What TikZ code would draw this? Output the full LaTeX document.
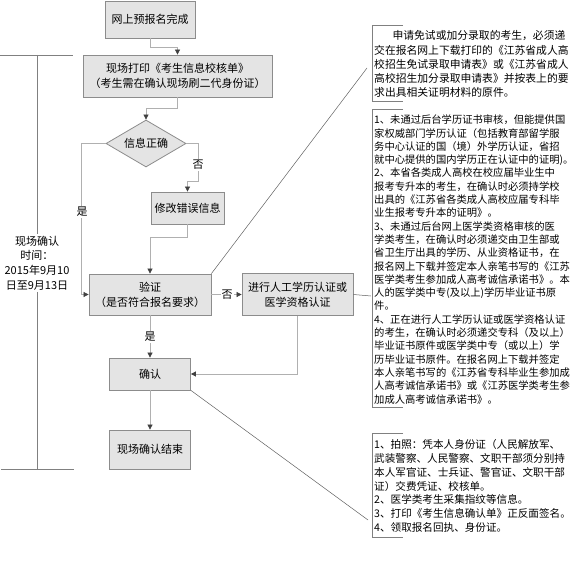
\documentclass[tikz,border=0pt]{standalone}
\usepackage{fontspec}
\setmainfont{Noto Sans CJK SC}
\usetikzlibrary{arrows.meta,shapes.geometric,calc}
\definecolor{boxfill}{HTML}{E4E4E4}
\definecolor{boxline}{HTML}{8C8C8C}
\definecolor{connline}{HTML}{B0B0B0}
\definecolor{tipcol}{HTML}{404040}
\definecolor{diagline}{HTML}{606060}
\definecolor{brkline}{HTML}{808080}
\begin{document}
\begin{tikzpicture}[x=1pt,y=-1pt,
  box/.style={draw=boxline,fill=boxfill,line width=0.8pt,inner sep=0pt,align=center,font=\fontsize{11}{15}\selectfont},
  conn/.style={draw=connline,line width=0.7pt},
  arr/.style={conn,-{Triangle[length=5pt,width=5pt,color=tipcol]}},
  lbl/.style={fill=white,inner sep=1pt,font=\fontsize{11}{13}\selectfont},
  note/.style={anchor=north west,align=left,inner sep=0pt},
  brk/.style={draw=brkline,line width=0.6pt},
  diag/.style={draw=diagline,line width=0.5pt}]
\useasboundingbox (0,0) rectangle (580,580);

% flow boxes
\node[box,minimum width=90pt,minimum height=37pt] (b1) at (150,19.5) {网上预报名完成};
\node[box,minimum width=189pt,minimum height=42pt] (b2) at (177.5,76) {现场打印《考生信息校核单》\\（考生需在确认现场刷二代身份证）};
\node[box,diamond,shape aspect=1.7,minimum width=80pt,minimum height=47pt] (d) at (146,143.5) {信息正确};
\node[box,minimum width=73pt,minimum height=32pt] (b3) at (187.5,208) {修改错误信息};
\node[box,minimum width=122pt,minimum height=41pt] (v) at (150,294.5) {验证\\（是否符合报名要求）};
\node[box,minimum width=111pt,minimum height=42pt] (b5) at (297.5,294.5) {进行人工学历认证或\\医学资格认证};
\node[box,minimum width=81pt,minimum height=32pt] (c) at (150,374) {确认};
\node[box,minimum width=81pt,minimum height=39pt] (e) at (150,449.5) {现场确认结束};

% connectors
\draw[arr] (b1.south) -- ++(0,9) -| (b2.north);
\draw[arr] (b2.south) -- ++(0,11) -| (d.north);
\draw[arr] (d.east) -| ++(12,38) -| (b3.north);
\draw[arr] (d.west) -- ++(-24,0) |- (v.west);
\draw[arr] (b3.south) -- ++(0,13) -| (v.north);
\draw[arr] (v.east) -- (v.east -| b5.west);
\draw[arr] (v.south) -- (c.north);
\draw[arr] (b5.south) |- (c.east);
\draw[arr] (c.south) -- (e.north);

% labels
\node[lbl] (l1) at (198,165) {否};
\node[lbl] (l2) at (82,212) {是};
\node[lbl] (l3) at (227,294.5) {否};
\node[lbl] (l4) at (150,337) {是};

% left bracket
\coordinate (lt1) at (0,55);
\coordinate (lt2) at (73,55);
\coordinate (lb1) at (1,469);
\coordinate (lb2) at (74,469);
\coordinate (lvt) at (37,55);
\coordinate (lvb) at (37,469);
\node[align=center,inner sep=1.5pt,font=\fontsize{11}{14.7}\selectfont] (lt) at (37,263) {现场确认\\时间：\\2015年9月10\\日至9月13日};
\draw[brk] (lt1) -- (lt2);
\draw[brk] (lb1) -- (lb2);
\draw[brk] (lvt) -- (lt.north);
\draw[brk] (lt.south) -- (lvb);

% right notes
\coordinate (r1a) at (403,25);
\coordinate (r1b) at (372,25);
\coordinate (r1c) at (372,101);
\coordinate (r1d) at (403,101);
\draw[brk] (r1a) -- (r1b) -- (r1c) -- (r1d);
\node[note,font=\fontsize{10.8}{14.25}\selectfont] (n1) at (374,30.6) {\hspace*{1.7em}申请免试或加分录取的考生，必须递\\
交在报名网上下载打印的《江苏省成人高\\
校招生免试录取申请表》或《江苏省成人\\
高校招生加分录取申请表》并按表上的要\\
求出具相关证明材料的原件。};

\coordinate (r2a) at (403,109);
\coordinate (r2b) at (372,109);
\coordinate (r2c) at (372,407);
\coordinate (r2d) at (403,407);
\draw[brk] (r2a) -- (r2b) -- (r2c) -- (r2d);
\node[note,font=\fontsize{10.3}{13.3}\selectfont] (n2) at (374,114.8) {1、未通过后台学历证书审核，但能提供国\\
家权威部门学历认证（包括教育部留学服\\
务中心认证的国（境）外学历认证，省招\\
就中心提供的国内学历正在认证中的证明)。\\
2、本省各类成人高校在校应届毕业生中\\
报考专升本的考生，在确认时必须持学校\\
出具的《江苏省各类成人高校应届专科毕\\
业生报考专升本的证明》。\\
3、未通过后台网上医学类资格审核的医\\
学类考生，在确认时必须递交由卫生部或\\
省卫生厅出具的学历、从业资格证书，在\\
报名网上下载并签定本人亲笔书写的《江苏\\
医学类考生参加成人高考诚信承诺书》。本\\
人的医学类中专(及以上)学历毕业证书原\\
件。\\
4、正在进行人工学历认证或医学资格认证\\
的考生，在确认时必须递交专科（及以上）\\
毕业证书原件或医学类中专（或以上）学\\
历毕业证书原件。在报名网上下载并签定\\
本人亲笔书写的《江苏省专科毕业生参加成\\
人高考诚信承诺书》或《江苏医学类考生参\\
加成人高考诚信承诺书》。};

\coordinate (r3a) at (403,433);
\coordinate (r3b) at (372,433);
\coordinate (r3c) at (372,537);
\coordinate (r3d) at (403,537);
\draw[brk] (r3a) -- (r3b) -- (r3c) -- (r3d);
\node[note,font=\fontsize{10.6}{13.7}\selectfont] (n3) at (374,439.7) {1、拍照：凭本人身份证（人民解放军、\\
武装警察、人民警察、文职干部须分别持\\
本人军官证、士兵证、警官证、文职干部\\
证）交费凭证、校核单。\\
2、医学类考生采集指纹等信息。\\
3、打印《考生信息确认单》正反面签名。\\
4、领取报名回执、身份证。};

% pointer lines
\coordinate (p1) at (367,68);
\coordinate (p2) at (371,296);
\coordinate (p3) at (368,520);
\draw[diag] (v.north east) -- (p1);
\draw[diag] (b5.east) -- (p2);
\draw[diag] (c.south east) -- (p3);
\end{tikzpicture}
\end{document}
